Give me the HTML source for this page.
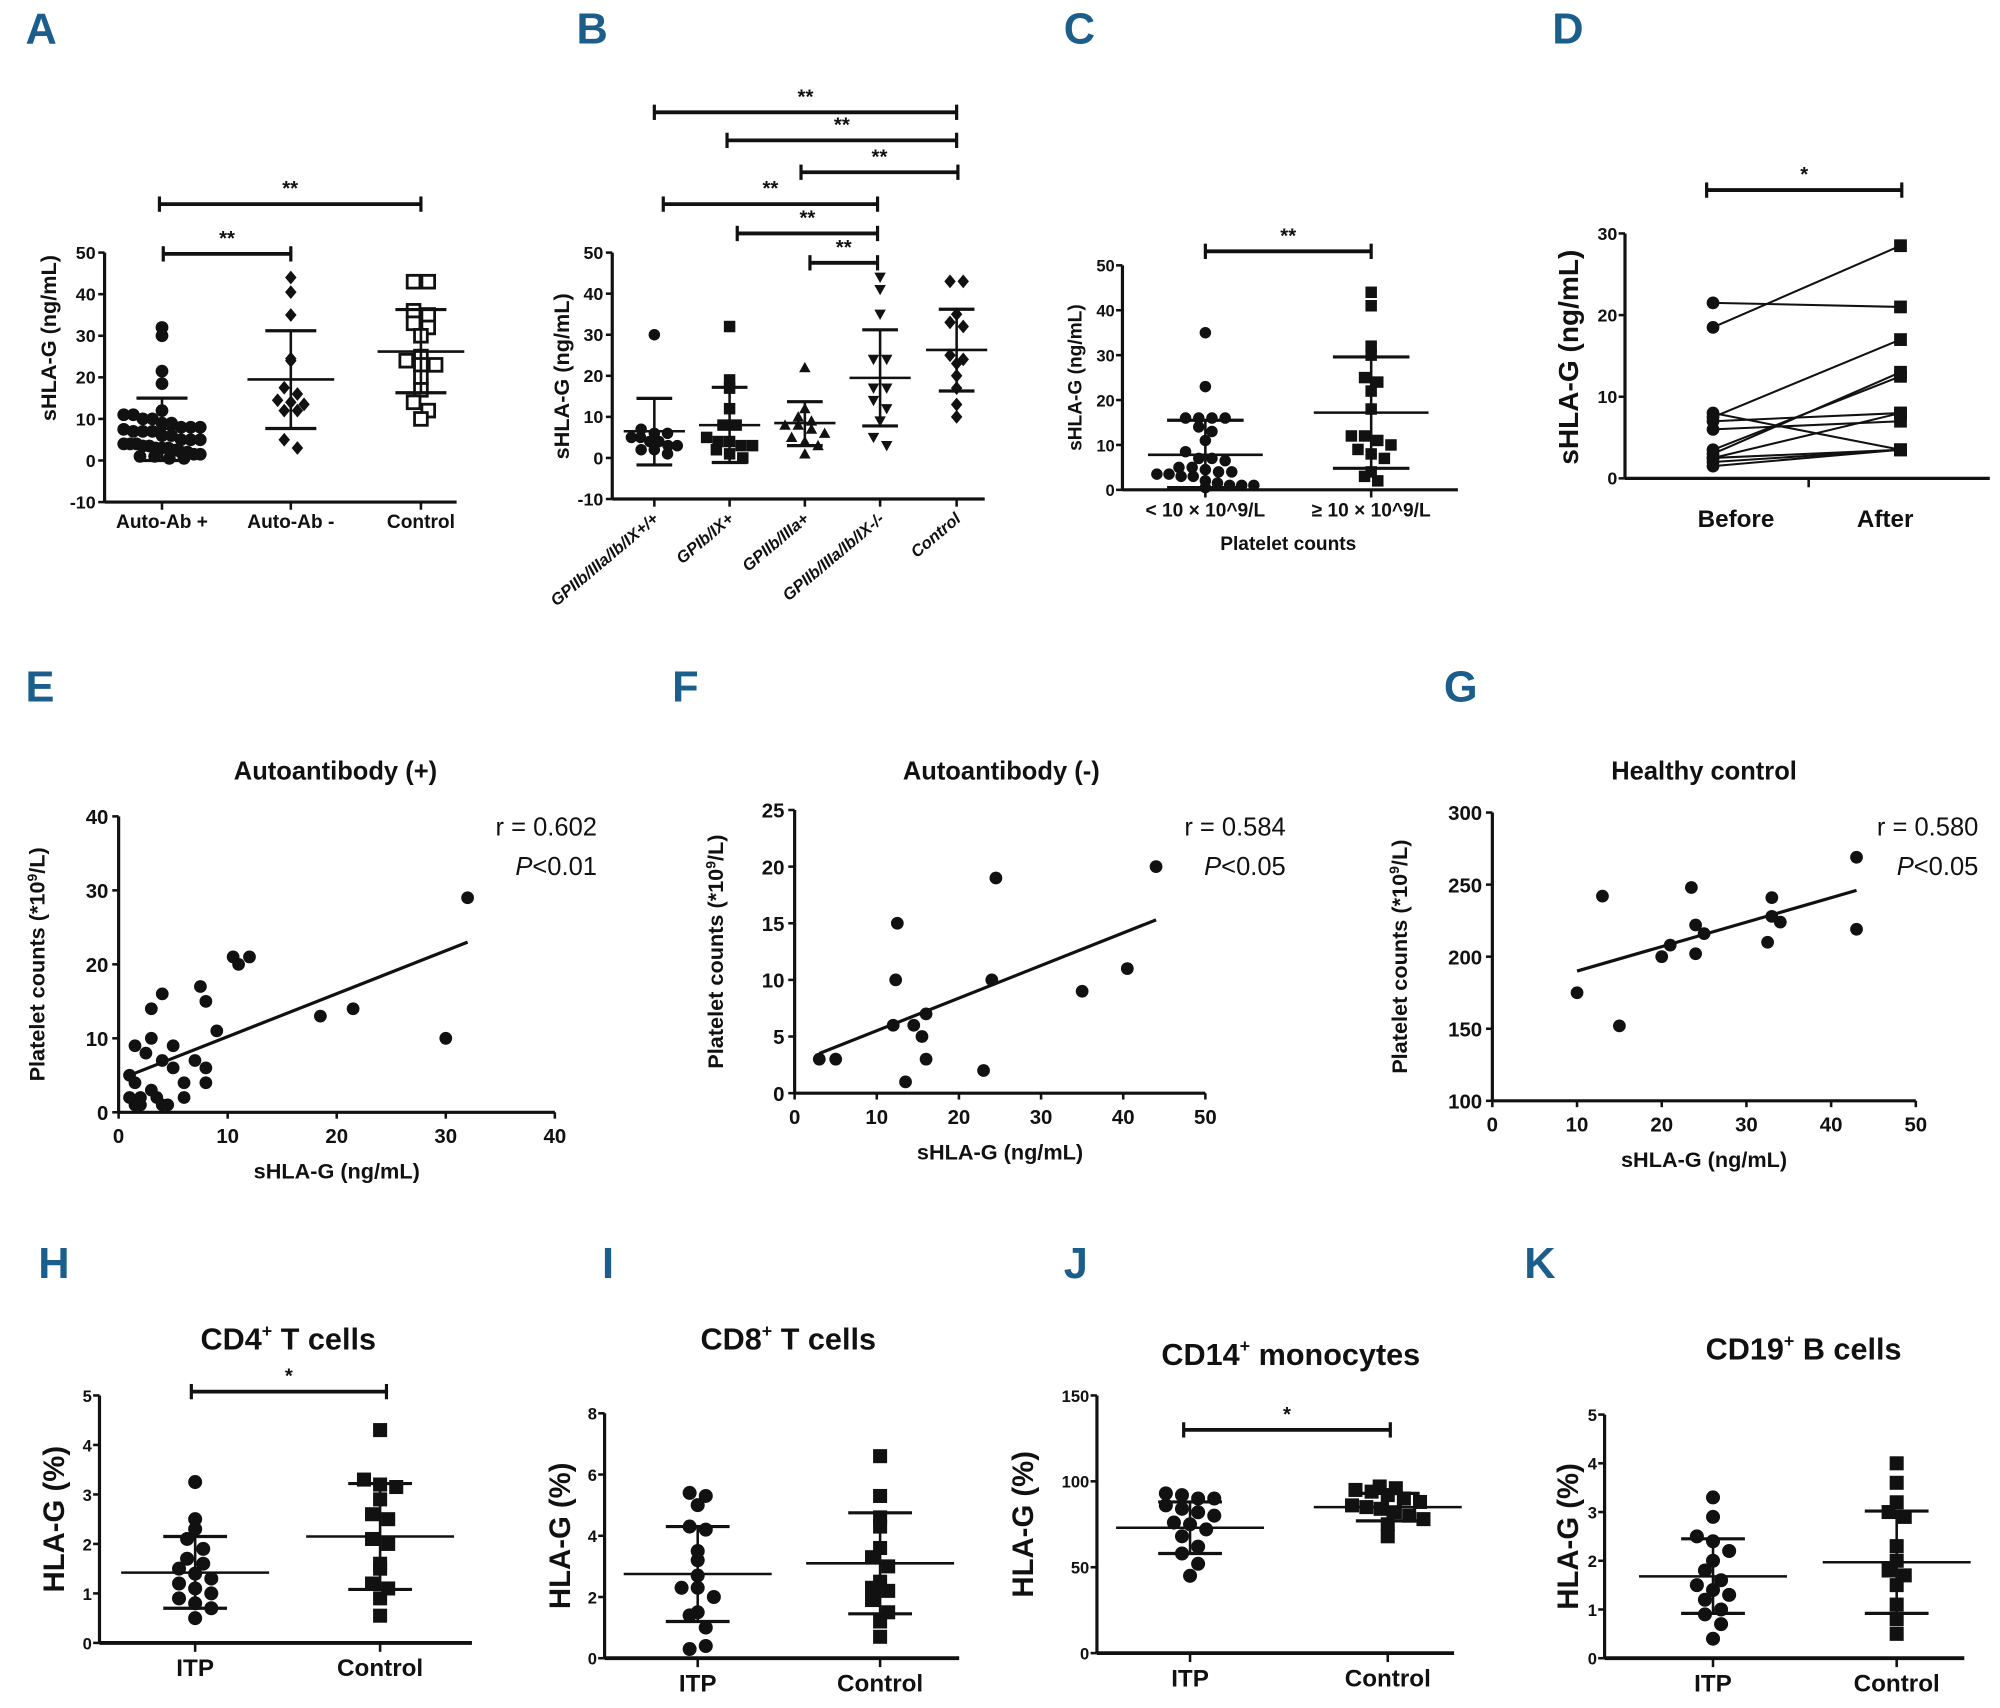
<!DOCTYPE html>
<html><head><meta charset="utf-8"><style>
html,body{margin:0;padding:0;background:#fff;}
svg{display:block;}
text{font-family:"Liberation Sans Narrow","Liberation Sans",sans-serif;font-weight:bold;fill:#111;}
.lab{fill:#1b5e8c;font-size:34px;}
</style></head><body>
<svg id="fig" width="2000" height="1708" viewBox="0 0 1568 1339" xmlns="http://www.w3.org/2000/svg"></svg>
<script>
// ---------- data ----------
const aCats=["Auto-Ab +","Auto-Ab -","Control"];
const aG1=[32,30,21.5,18.5,12,11,11,10,10,9,9,8,8,8,7.5,7,7,7,6,6,5,5,5,4,4,4,3.5,3.5,3,3,3,2.5,2,2,1.5,1.5,1,1,0.5,0.5];
const aG2=[44,40.5,35,24.5,24,17.5,14.5,14,13.5,12,12,16,5,3];
const aG3=[43,43,36,35,33,32,30,25,24,23,23,20,17,14,12,10];
const aMean=[7.6,19.5,26.2];const aHi=[15,31.2,36.3];const aLo=[0,7.7,16.3];

const bCats=["GPIIb/IIIa/Ib/IX+/+","GPIb/IX+","GPIIb/IIIa+","GPIIb/IIIa/Ib/IX-/-","Control"];
const bG1=[30,7,6,6,5,5,4,4,3,3,2,2,1];
const bG2=[32,19,17,12,8,8,5,4,4,3,3,2,1,0];
const bG3=[22,12,10,9,8,8,7,6,5,4,3,1];
const bG4=[44,41,35,24,24,17,17,14,12,9,5,3];
const bG5=[43,43,35,33,32,25,24,23,20,17,13,10];
const bMean=[6.5,8,8.5,19.5,26.3];const bHi=[14.5,17.2,13.7,31.2,36.2];const bLo=[-1.7,-1.1,3,7.8,16.3];

const cCats=["< 10 × 10^9/L","≥ 10 × 10^9/L"];
const cG1=[35,23,16,16,16,16,14,13,11,8.5,7,7,6.5,5,5,4.5,4,4,3.5,3.5,3,3,2,1.5,1,1,1,0.5];
const cG2=[44,41,32,30,25,24,22,18,12,12,11,10,9,8,7,4,3,2];
const cMean=[7.8,17.2];const cHi=[15.5,29.6];const cLo=[0.5,4.8];

const dBefore=[21.5,18.5,7.5,7,6,8,3,3.5,2.5,2,1.5,2.5];
const dAfter=[21,28.5,17,8,7,3.5,13,12.5,3.5,3.5,3.5,8];

const eX=[32,30,21.5,18.5,12,11,10.5,9,8,8,7.5,8,7,6,6,5,5,4,4,3,3,3,2.5,2,2,1.5,1.5,1,1.5,3.5,4,4.5,1];
const eY=[29,10,14,13,21,20,21,11,6,4,17,15,7,2,4,9,6,16,7,14,10,3,8,2,1,9,4,5,1,2,1,1,2];
const eFit=[5,23];const eFitX=[1,32];
const fX=[3,5,12,12.5,12.3,13.5,14.5,15.5,16,16,23,24,24.5,35,40.5,44];
const fY=[3,3,6,15,10,1,6,5,7,3,2,10,19,9,11,20];
const fFitX=[3,44];const fFit=[3.5,15.3];
const gX=[10,13,15,20,21,23.5,24,24,25,32.5,33,33,34,43,43];
const gY=[175,242,152,200,208,248,222,202,216,210,241,228,224,269,219];
const gFitX=[10,43];const gFit=[190,246];

const hITP=[3.25,2.5,2.3,2.1,1.9,1.7,1.6,1.5,1.4,1.3,1.2,1.1,1.0,0.9,0.8,0.7,0.5];
const hCtl=[4.3,3.3,3.2,3.15,2.9,2.6,2.5,2.1,2.0,1.6,1.5,1.2,1.1,0.9,0.55];
const hMean=[1.42,2.15];const hHi=[2.15,3.22];const hLo=[0.7,1.08];
const iITP=[5.4,5.3,5.0,4.3,4.2,3.5,3.2,2.7,2.3,2.3,2.0,1.5,1.4,1.0,0.3,0.4];
const iCtl=[6.6,5.3,4.6,4.3,3.6,3.3,3.0,2.5,2.3,2.2,1.9,1.5,1.2,0.7];
const iMean=[2.75,3.1];const iHi=[4.3,4.75];const iLo=[1.2,1.45];
const jITP=[93,92,90,90,86,84,82,80,76,75,72,68,62,58,52,45];
const jCtl=[97,96,95,94,92,90,88,86,85,84,82,80,78,75,68];
const jMean=[73,85];const jHi=[88,93];const jLo=[58,77];
const kITP=[3.3,2.9,2.5,2.4,2.2,2.0,1.8,1.6,1.5,1.4,1.3,1.2,1.0,0.9,0.7,0.4];
const kCtl=[4.0,3.6,3.2,3.0,2.9,2.3,2.0,1.8,1.7,1.5,1.1,0.8,0.5];
const kMean=[1.68,1.97];const kHi=[2.45,3.02];const kLo=[0.92,0.92];

// ---------- helpers ----------
const svg=document.getElementById('fig');const NS="http://www.w3.org/2000/svg";
function el(tag,attrs,parent){const e=document.createElementNS(NS,tag);for(const k in attrs)e.setAttribute(k,attrs[k]);(parent||svg).appendChild(e);return e;}
function txt(x,y,s,size,anchor,parent,extra){const t=el('text',Object.assign({x:x,y:y,'font-size':size,'text-anchor':anchor||'middle'},extra||{}),parent);t.textContent=s;return t;}
function lin(x1,y1,x2,y2,w,parent){return el('line',{x1:x1,y1:y1,x2:x2,y2:y2,stroke:'#111','stroke-width':w||2},parent);}
function sc(d0,d1,r0,r1){return v=>r0+(v-d0)/(d1-d0)*(r1-r0);}
function marker(shape,x,y,r,parent,hollow){
  let m;
  if(shape==='c')m=el('circle',{cx:x,cy:y,r:r},parent);
  else if(shape==='s')m=el('rect',{x:x-r,y:y-r,width:2*r,height:2*r},parent);
  else if(shape==='t')m=el('polygon',{points:`${x},${y-r} ${x-r},${y+r*0.8} ${x+r},${y+r*0.8}`},parent);
  else if(shape==='v')m=el('polygon',{points:`${x},${y+r} ${x-r},${y-r*0.8} ${x+r},${y-r*0.8}`},parent);
  else m=el('polygon',{points:`${x},${y-r*1.2} ${x-r},${y} ${x},${y+r*1.2} ${x+r},${y}`},parent);
  if(hollow){m.setAttribute('fill','#fff');m.setAttribute('stroke','#111');m.setAttribute('stroke-width','2.2');}else m.setAttribute('fill','#111');
  return m;}
// beeswarm-like: points in same vertical bin spread evenly, limited to maxW half-width
function jitter(vals,cx,sy,shape,r,g,hollow,maxW){
  const bins={};
  vals.forEach((v,i)=>{const b=Math.round(sy(v)/(r*2.2));(bins[b]=bins[b]||[]).push(i);});
  Object.keys(bins).forEach(b=>{const idx=bins[b];const n=idx.length;
    const half=Math.min((n-1)*r*1.15,maxW||30);
    idx.forEach((i,k)=>{const off=n===1?0:-half+2*half*k/(n-1);marker(shape,cx+off,sy(vals[i]),r,g,hollow);});});}
function errbar(cx,sy,mean,hi,lo,mw,ew,g){
  lin(cx,sy(hi),cx,sy(lo),2,g);lin(cx-mw,sy(mean),cx+mw,sy(mean),2,g);
  lin(cx-ew,sy(hi),cx+ew,sy(hi),2.5,g);lin(cx-ew,sy(lo),cx+ew,sy(lo),2.5,g);}
function bracket(x1,x2,y,star,g){lin(x1,y,x2,y,3,g);lin(x1,y-6,x1,y+6,2.5,g);lin(x2,y-6,x2,y+6,2.5,g);txt((x1+x2)/2,y-7,star,16,'middle',g);}
function yaxis(x,sy,ticks,y0,y1,g,fs,dx){lin(x,sy(y0),x,sy(y1),2.5,g);ticks.forEach(t=>{lin(x-5,sy(t),x,sy(t),2,g);txt(x-(dx||7),sy(t)+5,String(t),fs||14,'end',g);});}
function ylabel(x,y,s,fs,g){const t=txt(x,y,s,fs,'middle',g,{transform:`rotate(-90 ${x} ${y})`,style:'font-family:"Liberation Sans",sans-serif'});return t;}
function panelLetter(x,y,s){const t=txt(x,y,s,34,'start',svg,{class:'lab'});}
function grp(name){const g=el('g',{});return g;}

// letters
[["A",20,34],["B",452,34],["C",834,34],["D",1217,34],["E",20,550],["F",527,550],["G",1132,550],["H",30,1002],["I",472,1002],["J",834,1002],["K",1195,1002]].forEach(a=>panelLetter(a[1],a[2],a[0]));

// ---- A ----
(function(){const g=grp('panel-a');const sy=sc(0,50,361,198);
 yaxis(82,sy,[50,40,30,20,10,0,-10],-10,50,g);lin(82,sy(-10),358,sy(-10),2.5,g);
 const cx=[127,228,330];
 cx.forEach((x,i)=>{lin(x,sy(-10),x,sy(-10)+6,2,g);txt(x,414,aCats[i],15,'middle',g);});
 ylabel(44,265,'sHLA-G (ng/mL)',17,g);
 jitter(aG1,cx[0],sy,'c',5,g,false,30);jitter(aG2,cx[1],sy,'d',4.5,g,false,24);jitter(aG3,cx[2],sy,'s',5,g,true,20);
 cx.forEach((x,i)=>errbar(x,sy,aMean[i],aHi[i],aLo[i],34,20,g));
 bracket(128,228,199,'**',g);bracket(125,330,160,'**',g);})();

// ---- B ----
(function(){const g=grp('panel-b');const sy=sc(0,50,359,198);
 yaxis(480,sy,[50,40,30,20,10,0,-10],-10,50,g);lin(480,sy(-10),772,sy(-10),2.5,g);
 const cx=[513,572,631,690,750];const sh=['c','s','t','v','d'];const data=[bG1,bG2,bG3,bG4,bG5];
 cx.forEach((x,i)=>{lin(x,sy(-10),x,sy(-10)+6,2,g);txt(x+4,408,bCats[i],13,'end',g,{transform:`rotate(-40 ${x+4} 408)`,'font-style':'italic'});
   jitter(data[i],x,sy,sh[i],4.5,g,false,18);errbar(x,sy,bMean[i],bHi[i],bLo[i],24,14,g);});
 ylabel(446,295,'sHLA-G (ng/mL)',17,g);
 bracket(513,750,88,'**',g);bracket(570,750,110,'**',g);bracket(628,751,135,'**',g);
 bracket(520,688,160,'**',g);bracket(578,688,183,'**',g);bracket(635,688,206,'**',g);})();

// ---- C ----
(function(){const g=grp('panel-c');const sy=sc(0,50,384,208);
 yaxis(880,sy,[50,40,30,20,10,0],0,50,g,13,6);lin(880,sy(0),1143,sy(0),2.5,g);
 const cx=[945,1075];
 cx.forEach((x,i)=>{lin(x,384,x,390,2,g);txt(x,405,cCats[i],15,'middle',g);});
 txt(1010,431,'Platelet counts',15,'middle',g);
 ylabel(848,296,'sHLA-G (ng/mL)',15,g);
 jitter(cG1,cx[0],sy,'c',4.5,g,false,38);jitter(cG2,cx[1],sy,'s',4.5,g,false,22);
 cx.forEach((x,i)=>errbar(x,sy,cMean[i],cHi[i],cLo[i],45,30,g));
 bracket(945,1075,197,'**',g);})();

// ---- D ----
(function(){const g=grp('panel-d');const sy=sc(0,30,375,183);
 yaxis(1274,sy,[30,20,10,0],0,30,g,14,6);lin(1274,375,1560,375,2.5,g);lin(1418,375,1418,382,2,g);
 const cx=[1343,1490];txt(cx[0]+18,413,'Before',19,'middle',g);txt(cx[1]-12,413,'After',19,'middle',g);
 ylabel(1237,280,'sHLA-G (ng/mL)',22,g);
 dBefore.forEach((b,i)=>{lin(cx[0],sy(b),cx[1],sy(dAfter[i]),1.6,g);marker('c',cx[0],sy(b),5,g);marker('s',cx[1],sy(dAfter[i]),5,g);});
 bracket(1338,1491,149,'*',g);})();

// scatter panels
function scatter(name,title,tx,ax,x0,x1,xs,xticks,yt,yb,ys,yticks,px,py,fx,fy,rtxt,ptxt,rx,ylx){
 const g=grp(name);const sx=sc(0,x1,ax,x0),sy=sc(ys[0],ys[1],yb,yt);
 txt(tx,611,title,20,'middle',g,{style:'font-family:"Liberation Sans",sans-serif'});
 lin(ax,yt,ax,yb,2.5,g);lin(ax,yb,x0,yb,2.5,g);
 yticks.forEach(t=>{lin(ax-5,sy(t),ax,sy(t),2,g);txt(ax-8,sy(t)+6,String(t),16,'end',g);});
 xticks.forEach(t=>{lin(sx(t),yb,sx(t),yb+5,2,g);txt(sx(t),yb+24,String(t),16,'middle',g);});
 txt((ax+x0)/2,yb+52,'sHLA-G (ng/mL)',17,'middle',g,{style:'font-family:"Liberation Sans",sans-serif'});
 const yl=ylx, yc=(yt+yb)/2;const t=el('text',{x:yl,y:yc,'font-size':17,'text-anchor':'middle',transform:`rotate(-90 ${yl} ${yc})`,style:'font-family:"Liberation Sans",sans-serif'},g);
 t.innerHTML='Platelet counts (*10<tspan dy="-6" font-size="11">9</tspan><tspan dy="6">/L)</tspan>';
 px.forEach((v,i)=>marker('c',sx(v),sy(py[i]),5,g));
 lin(sx(fx[0]),sy(fy[0]),sx(fx[1]),sy(fy[1]),2.5,g);
 txt(rx,655,rtxt,20,'end',g,{style:'font-weight:normal;font-family:"Liberation Sans",sans-serif'});
 const p=el('text',{x:rx,y:686,'font-size':20,'text-anchor':'end',style:'font-weight:normal;font-family:"Liberation Sans",sans-serif'},g);
 p.innerHTML='<tspan font-style="italic">P</tspan>'+ptxt;}
scatter('panel-e','Autoantibody (+)',263,93,435,40,0,[0,10,20,30,40],640,872,[0,40],[0,10,20,30,40],eX,eY,eFitX,eFit,'r = 0.602','&lt;0.01',468,35);
scatter('panel-f','Autoantibody (-)',785,623,945,50,0,[0,10,20,30,40,50],635,857,[0,25],[0,5,10,15,20,25],fX,fY,fFitX,fFit,'r = 0.584','&lt;0.05',1008,567);
scatter('panel-g','Healthy control',1336,1170,1502,50,0,[0,10,20,30,40,50],637,863,[100,300],[100,150,200,250,300],gX,gY,gFitX,gFit,'r = 0.580','&lt;0.05',1551,1103);

// bottom panels
function dot(name,sup,rest,tx,ty,ax,x1,yt,yb,ymax,yticks,cx,itp,ctl,mean,hi,lo,br,ylx){
 const g=grp(name);const sy=sc(0,ymax,yb,yt);
 const t=el('text',{x:tx,y:ty,'font-size':24,'text-anchor':'middle'},g);
 t.innerHTML=sup+'<tspan dy="-10" font-size="14">+</tspan><tspan dy="10">'+rest+'</tspan>';
 lin(ax,yt,ax,yb,2.5,g);lin(ax,yb,x1,yb,3,g);
 yticks.forEach(v=>{lin(ax-5,sy(v),ax,sy(v),2,g);txt(ax-6,sy(v)+5,String(v),13,'end',g);});
 ['ITP','Control'].forEach((s,i)=>{lin(cx[i],yb,cx[i],yb+7,2,g);txt(cx[i],yb+26,s,19,'middle',g);});
 const y0=(yt+yb)/2;el('text',{x:ylx,y:y0,'font-size':23,'text-anchor':'middle',transform:`rotate(-90 ${ylx} ${y0})`,style:'font-family:"Liberation Sans",sans-serif'},g).textContent='HLA-G (%)';
 jitter(itp,cx[0],sy,'c',5.5,g,false,28);jitter(ctl,cx[1],sy,'s',5.5,g,false,28);
 [0,1].forEach(i=>errbar(cx[i],sy,mean[i],hi[i],lo[i],58,25,g));
 if(br)bracket(br[0],br[1],br[2],'*',g);}
dot('panel-h','CD4',' T cells',226,1058,78,370,1094,1288,5,[0,1,2,3,4,5],[153,298],hITP,hCtl,hMean,hHi,hLo,[150,303,1091],50);
dot('panel-i','CD8',' T cells',618,1058,474,752,1108,1300,8,[0,2,4,6,8],[547,690],iITP,iCtl,iMean,iHi,iLo,null,447);
dot('panel-j','CD14',' monocytes',1012,1070,860,1140,1094,1296,150,[0,50,100,150],[933,1088],jITP,jCtl,jMean,jHi,jLo,[928,1090,1121],810);
dot('panel-k','CD19',' B cells',1414,1066,1258,1540,1109,1300,5,[0,1,2,3,4,5],[1343,1487],kITP,kCtl,kMean,kHi,kLo,null,1237);
</script>
</body></html>
